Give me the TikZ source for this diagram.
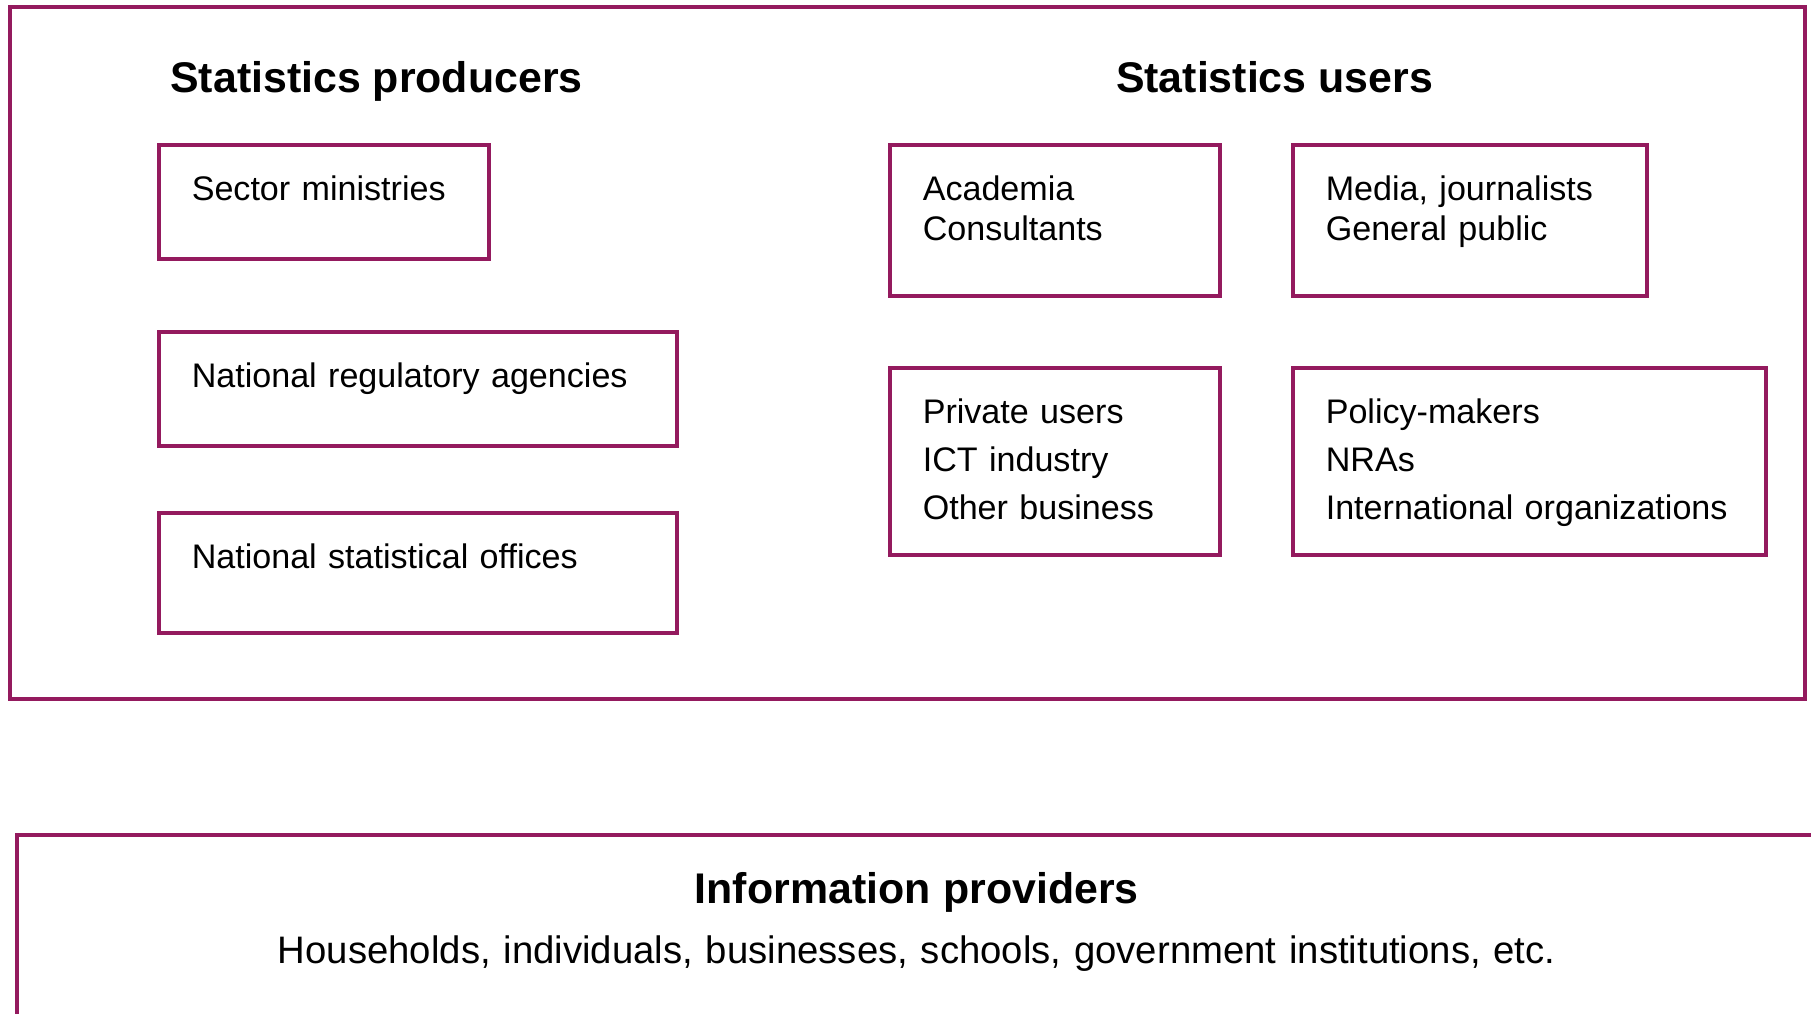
\documentclass[tikz,border=0pt]{standalone}
\usepackage{fontspec}
\setmainfont{Liberation Sans}
\usepackage{xcolor}
\usepackage{tikz}
\usetikzlibrary{positioning}

\definecolor{plum}{RGB}{148,26,94}

\begin{document}
\begin{tikzpicture}[
    group/.style={
        rectangle,
        draw=plum,
        line width=1pt,
        anchor=north west,
        inner xsep=0.33cm,
        inner ysep=0pt,
        text height=0.56cm,
        align=left,
        font=\fontsize{9.7}{11.4}\selectfont
    },
    heading/.style={
        anchor=base,
        font=\fontsize{12.2}{14}\selectfont\bfseries
    }
]

\useasboundingbox (0,0) rectangle (18.11,-10.14);
\clip (0,0) rectangle (18.11,-10.14);

\draw[plum, line width=1pt] (0.10,-0.07) rectangle (18.05,-6.99);

\node[heading] (producers) at (3.765,-0.93) {Statistics producers};
\node[heading] (users) at (12.745,-0.93) {Statistics users};

\node[group, text width=2.64cm, text depth=0.58cm] (sector) at (1.57,-1.43) {Sector ministries};

\node[group, text width=4.52cm, text depth=0.58cm] (regulators) at (1.57,-3.30) {National regulatory agencies};

\node[group, text width=4.52cm, text depth=0.64cm] (nso) at (1.57,-5.11) {National statistical offices};

\node[group, text width=2.64cm, text depth=0.95cm] (academia) at (8.88,-1.43) {Academia\\Consultants};

\node[group, text width=2.88cm, text depth=0.95cm] (media) at (12.91,-1.43) {Media, journalists\\General public};

\node[group, text width=2.64cm, text depth=1.31cm, font=\fontsize{9.7}{13.6}\selectfont] (private) at (8.88,-3.66) {Private users\\ICT industry\\Other business};

\node[group, text width=4.07cm, text depth=1.31cm, font=\fontsize{9.7}{13.6}\selectfont] (policy) at (12.91,-3.66) {Policy-makers\\NRAs\\International organizations};

\node[group, inner xsep=0.15cm, text width=17.7cm, align=center, text height=0.69cm, text depth=2cm, font=\fontsize{10.9}{17}\selectfont] (providers) at (0.15,-8.33) {{\fontsize{12.2}{14}\selectfont\bfseries Information providers}\\Households, individuals, businesses, schools, government institutions, etc.};

\end{tikzpicture}
\end{document}
